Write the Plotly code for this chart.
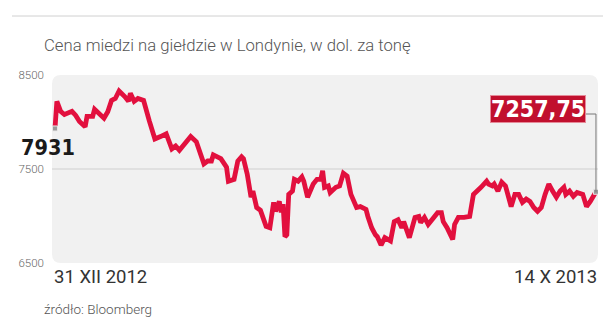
import pandas as pd
import plotly.graph_objects as go

# ---- data ----
START_DATE = "2012-12-31"
END_DATE = "2013-10-14"
DAY_OFFSETS = [0, 1, 3, 5, 9, 11, 13, 16, 17, 20, 21, 24, 26, 28, 30, 32, 34, 37, 39, 40,
               42, 44, 47, 50, 53, 56, 59, 62, 64, 66, 69, 72, 75, 79, 81, 83, 84, 88, 91, 92,
               95, 97, 99, 100, 102, 104, 105, 107, 109, 112, 114, 116, 117, 119, 120, 121, 122, 123, 124, 126,
               127, 129, 131, 132, 134, 135, 137, 139, 141, 142, 143, 145, 146, 149, 151, 153, 155, 157, 160, 162,
               165, 166, 168, 170, 171, 173, 175, 178, 180, 182, 184, 185, 187, 188, 191, 193, 194, 196, 198, 200,
               203, 205, 206, 208, 211, 212, 214, 217, 220, 222, 224, 226, 229, 230, 232, 233, 235, 237, 239, 241,
               242, 244, 246, 248, 250, 252, 254, 256, 258, 260, 262, 264, 266, 268, 270, 271, 273, 275, 277, 280,
               282, 284, 287]
PRICES = [7931, 8220, 8113, 8080, 8113, 8070, 8005, 7950, 8060, 8060, 8135, 8080, 8040, 8110, 8230, 8250, 8330, 8270, 8220, 8305,
          8220, 8250, 8230, 8015, 7820, 7845, 7875, 7715, 7745, 7700, 7770, 7845, 7790, 7555, 7585, 7585, 7650, 7610, 7520, 7370,
          7390, 7585, 7630, 7610, 7445, 7200, 7265, 7090, 7060, 6890, 6875, 7145, 7050, 7155, 7040, 7125, 6780, 6800, 7230, 7265,
          7390, 7370, 7415, 7370, 7200, 7250, 7340, 7390, 7390, 7480, 7305, 7320, 7250, 7305, 7320, 7455, 7425, 7230, 7090, 7100,
          7070, 6995, 6875, 6800, 6780, 6690, 6770, 6735, 6940, 6960, 6875, 6940, 6820, 6770, 6985, 6995, 6930, 6985, 6910, 6960,
          7035, 7035, 6940, 6875, 6750, 6910, 6985, 6985, 6995, 7230, 7265, 7305, 7370, 7340, 7320, 7340, 7265, 7360, 7320, 7200,
          7100, 7230, 7230, 7145, 7180, 7155, 7090, 7050, 7090, 7230, 7340, 7265, 7200, 7265, 7305, 7230, 7265, 7210, 7250, 7230,
          7100, 7155, 7257.75]
Y_TICKS = [6500, 7500, 8500]
X_LABELS = ["31 XII 2012", "14 X 2013"]
TITLE = "Cena miedzi na giełdzie w Londynie, w dol. za tonę"
SOURCE = "źródło: Bloomberg"

assert len(DAY_OFFSETS) == len(PRICES)

start = pd.Timestamp(START_DATE)
dates = [start + pd.Timedelta(days=d) for d in DAY_OFFSETS]

# ---- layout geometry (pixels) ----
W, H = 613, 324
L, R, T, B = 52, 15, 75, 61
PW, PH = W - L - R, H - T - B


def px_x(p):
    return (p - L) / PW


def px_y(p):
    return (H - B - p) / PH


LINE_COLOR = "#e2103e"
FONT = "Roboto, 'Open Sans', sans-serif"
COND = "'Liberation Sans Narrow', 'DejaVu Sans Condensed', Roboto, sans-serif"

fig = go.Figure()

fig.add_trace(go.Scatter(
    x=dates, y=PRICES, mode="lines",
    line=dict(color=LINE_COLOR, width=4.8, shape="linear"),
    hoverinfo="skip", showlegend=False,
))
fig.add_trace(go.Scatter(
    x=[dates[0], dates[-1]], y=[PRICES[0], PRICES[-1]], mode="markers",
    marker=dict(symbol="square", size=5, color="#9a9a9a", line=dict(color="#e8e8e8", width=1)),
    hoverinfo="skip", showlegend=False,
))

# rounded background rectangle
r = 9
rx, ry = r / PW, r / PH
path = (f"M {rx},0 L {1-rx},0 Q 1,0 1,{ry} L 1,{1-ry} Q 1,1 {1-rx},1 "
        f"L {rx},1 Q 0,1 0,{1-ry} L 0,{ry} Q 0,0 {rx},0 Z")
shapes = [
    dict(type="path", xref="paper", yref="paper", path=path,
         fillcolor="#f1f1f1", line=dict(width=0), layer="below"),
    dict(type="line", xref="paper", yref="y", x0=0, x1=1, y0=Y_TICKS[1], y1=Y_TICKS[1],
         line=dict(color="#cfcfcf", width=1), layer="below"),
    dict(type="line", xref="paper", yref="paper", x0=px_x(12), x1=px_x(603),
         y0=px_y(16), y1=px_y(16), line=dict(color="#d0d0d0", width=1)),
]

# connector from last point to value box
box_level = 8085
shapes.append(dict(type="line", xref="x", yref="y", xsizemode="pixel", xanchor=dates[-1],
                   x0=-10, x1=0, y0=box_level, y1=box_level, line=dict(color="#777", width=1)))
shapes.append(dict(type="line", xref="x", yref="y", x0=dates[-1], x1=dates[-1],
                   y0=box_level, y1=PRICES[-1], line=dict(color="#777", width=1)))

last_txt = f"{PRICES[-1]:.2f}".replace(".", ",")
first_txt = f"{PRICES[0]:.0f}"

annotations = [
    dict(text=TITLE, xref="paper", yref="paper", x=px_x(42), y=px_y(46),
         xanchor="left", yanchor="middle", showarrow=False,
         font=dict(family=FONT, size=16.7, color="#555", weight=300)),
    dict(text=SOURCE, xref="paper", yref="paper", x=px_x(42), y=px_y(309),
         xanchor="left", yanchor="middle", showarrow=False,
         font=dict(family=FONT, size=13.5, color="#555", weight=300)),
    dict(text=X_LABELS[0], xref="paper", yref="paper", x=0, y=px_y(277),
         xanchor="left", yanchor="middle", showarrow=False,
         font=dict(family=FONT, size=18.5, color="#333")),
    dict(text=X_LABELS[1], xref="paper", yref="paper", x=px_x(599), y=px_y(277),
         xanchor="right", yanchor="middle", showarrow=False,
         font=dict(family=FONT, size=18.5, color="#333")),
    dict(text=f"<b>{first_txt}</b>", x=dates[0], y=PRICES[0], xref="x", yref="y",
         xanchor="right", yanchor="middle", xshift=22, yshift=-19, showarrow=False,
         font=dict(family=COND, size=21.5, color="#1a1a1a")),
    dict(text=f"<b>{last_txt}</b>", x=dates[-1], y=box_level, xref="x", yref="y",
         xanchor="right", yanchor="middle", xshift=-10, yshift=5, showarrow=False,
         bgcolor="#c1102e", bordercolor="#e58a98", borderwidth=1, borderpad=0,
         font=dict(family=COND, size=23, color="white")),
]

fig.update_layout(
    width=W, height=H,
    margin=dict(l=L, r=R, t=T, b=B, pad=0),
    paper_bgcolor="white", plot_bgcolor="rgba(0,0,0,0)",
    shapes=shapes, annotations=annotations, showlegend=False,
    xaxis=dict(type="date",
               range=[start - pd.Timedelta(hours=38), start + pd.Timedelta(days=288, hours=2)],
               showgrid=False, zeroline=False, showticklabels=False, ticks="", showline=False),
    yaxis=dict(range=[6500, 8500], tickvals=Y_TICKS, ticktext=[str(v) for v in Y_TICKS],
               showgrid=False, zeroline=False, ticks="", showline=False,
               tickfont=dict(family=FONT, size=11.5, color="#666", weight=300),
               ticklabelstandoff=7),
)

fig.write_html("out.html")
